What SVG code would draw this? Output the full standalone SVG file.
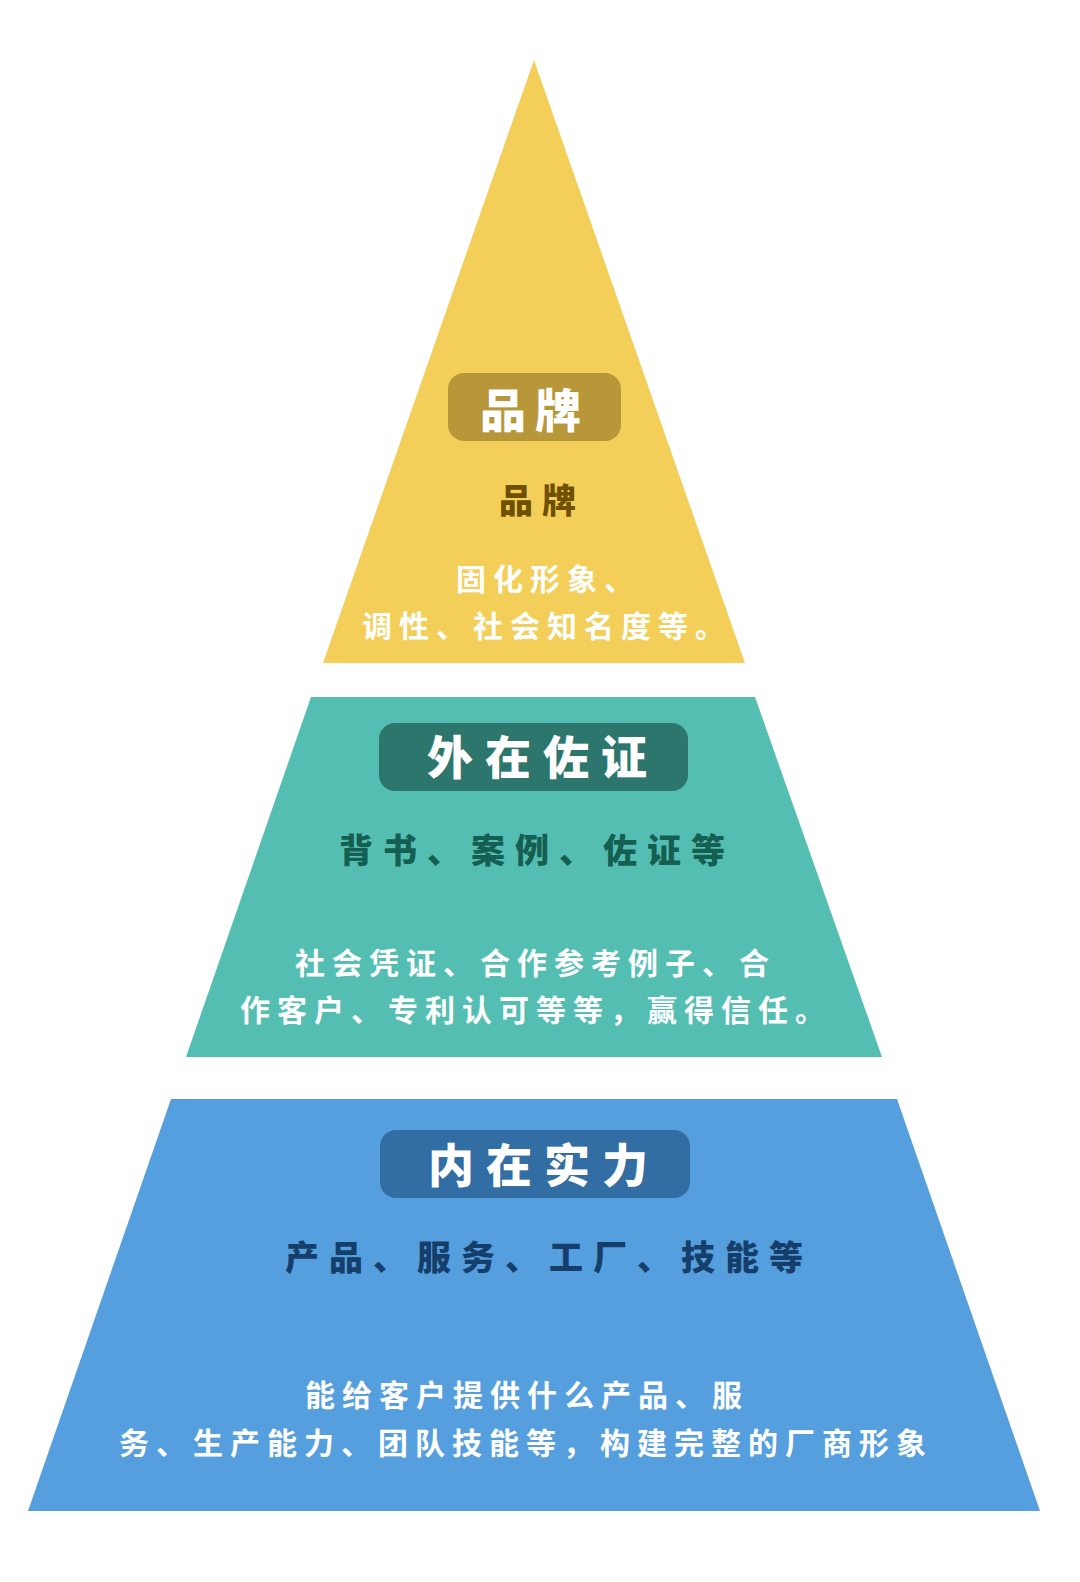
<svg xmlns="http://www.w3.org/2000/svg" width="1080" height="1582" viewBox="0 0 1080 1582">
<style>
text{font-family:"Noto Sans CJK SC","Noto Sans",sans-serif;dominant-baseline:central}
.title{font-size:46px;font-weight:900;fill:#ffffff;letter-spacing:12px}
.sub{font-size:34px;font-weight:900;letter-spacing:10px}
.body{font-size:30px;font-weight:700;fill:#ffffff;letter-spacing:7px}
</style>
<rect width="1080" height="1582" fill="#ffffff"/>
<g id="level-brand">
<polygon points="534,60 745,663 323,663" fill="#F3CF5A"/>
<rect x="448" y="373" width="173" height="68" rx="16" fill="#B8973A"/>
<text class="title" x="480" y="407" style="letter-spacing:9px">品牌</text>
<text class="sub" x="499" y="498" fill="#6E5000" style="letter-spacing:9px">品牌</text>
<text class="body" x="456" y="577">固化形象、</text>
<text class="body" x="362" y="624">调性、社会知名度等。</text>
</g>
<g id="level-proof">
<polygon points="311,697 755,697 882,1057 186,1057" fill="#54BEB3"/>
<rect x="379" y="723" width="309" height="68" rx="16" fill="#2D766E"/>
<text class="title" x="427" y="754">外在佐证</text>
<text class="sub" x="339" y="848" fill="#145E52">背书、案例、佐证等</text>
<text class="body" x="295" y="961">社会凭证、合作参考例子、合</text>
<text class="body" x="240" y="1008">作客户、专利认可等等，赢得信任。</text>
</g>
<g id="level-strength">
<polygon points="171,1099 897,1099 1040,1511 28,1511" fill="#569FDE"/>
<rect x="380" y="1130" width="310" height="68" rx="16" fill="#326DA3"/>
<text class="title" x="428" y="1162">内在实力</text>
<text class="sub" x="285" y="1255" fill="#153F6A">产品、服务、工厂、技能等</text>
<text class="body" x="305" y="1393">能给客户提供什么产品、服</text>
<text class="body" x="119" y="1441">务、生产能力、团队技能等，构建完整的厂商形象</text>
</g>
<g id="connectors"/>
</svg>
